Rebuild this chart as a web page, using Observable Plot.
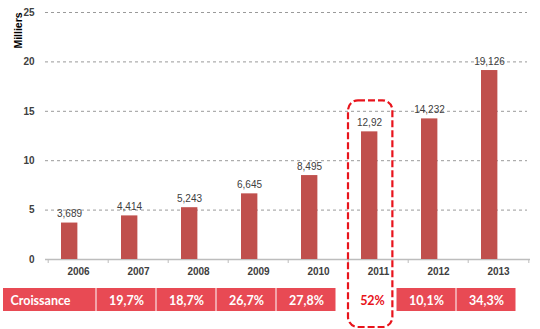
<!DOCTYPE html>
<html>
<head>
<meta charset="utf-8">
<script src="https://cdn.jsdelivr.net/npm/d3@7"></script>
<script src="https://cdn.jsdelivr.net/npm/@observablehq/plot@0.6"></script>
<style>
  html, body { margin: 0; padding: 0; background: white; }
</style>
</head>
<body>
<div id="chart"></div>
<script>
const years = ["2006", "2007", "2008", "2009", "2010", "2011", "2012", "2013"];
const values = [3.689, 4.414, 5.243, 6.645, 8.495, 12.92, 14.232, 19.126];
const valueLabels = ["3,689", "4,414", "5,243", "6,645", "8,495", "12,92", "14,232", "19,126"];
const growthYears = ["2007", "2008", "2009", "2010", "2011", "2012", "2013"];
const growthLabels = ["19,7%", "18,7%", "26,7%", "27,8%", "52%", "10,1%", "34,3%"];
const tableTitle = "Croissance";
const highlightYear = "2011";
const yTicks = [0, 5, 10, 15, 20, 25];
const yLabel = "Milliers";

const W = 540, H = 329, mL = 45, mR = 10, mT = 12, mB = 70;
const bw = (W - mL - mR) / years.length;

const data = years.map((year, i) => ({year, value: values[i], label: valueLabels[i]}));
const table = growthYears.map((year, i) => ({year, label: growthLabels[i]}));
const tableFilled = table.filter(d => d.year !== highlightYear);
const tableHighlight = table.filter(d => d.year === highlightYear);
const highlight = data.filter(d => d.year === highlightYear);

const red = "#e84a54";
const dashRed = "#e8141c";
const tableFont = "Lato, 'Open Sans', sans-serif";
const cellShift = -12;

const chart = Plot.plot({
  width: W, height: H,
  marginTop: mT, marginBottom: mB, marginLeft: mL, marginRight: mR,
  style: {fontFamily: "'Liberation Sans', Arial, sans-serif", background: "white", overflow: "visible"},
  x: {domain: years, padding: 0, label: null},
  y: {domain: [0, 25], ticks: yTicks, label: null},
  marks: [
    Plot.ruleY(yTicks.filter(t => t > 0), {stroke: "#9a9a9a", strokeDasharray: "3,3", insetRight: 3}),
    Plot.ruleY([0], {stroke: "#bdbdbd", strokeWidth: 1.5}),
    Plot.ruleX(years, {x: d => d, dx: -bw / 2, insetTop: H - mT - mB, insetBottom: -4, stroke: "#bdbdbd"}),
    Plot.ruleX([years[years.length - 1]], {x: d => d, dx: bw / 2, insetTop: H - mT - mB, insetBottom: -4, stroke: "#bdbdbd"}),
    Plot.barY(data, {x: "year", y: "value", fill: "#c0504d", insetLeft: 13, insetRight: bw - 30}),
    Plot.text(data, {x: "year", y: "value", text: "label", dx: -9, dy: -6, lineAnchor: "bottom",
      fontSize: 10, fill: "#404040"}),
    Plot.axisY({ticks: yTicks, tickSize: 0, tickPadding: 11, fontSize: 10, fontWeight: "bold", fill: "#404040", label: null}),
    Plot.axisX({tickSize: 0, tickPadding: 8, fontSize: 10, fontWeight: "bold", fill: "#404040", label: null}),
    Plot.text([yLabel], {frameAnchor: "top-left", dx: -31, dy: 18, rotate: -90, textAnchor: "middle",
      fontSize: 10.5, fontWeight: "bold", fill: "black"}),
    // table row
    Plot.barY([{year: years[0]}], {x: "year", y1: 0, y2: 0, dx: cellShift, insetLeft: -(mL + cellShift), insetRight: 0.5,
      insetTop: 29, insetBottom: -52, fill: red}),
    Plot.barY(tableFilled, {x: "year", y1: 0, y2: 0, dx: cellShift, insetLeft: 0.5, insetRight: 0.5,
      insetTop: 29, insetBottom: -52, fill: red}),
    Plot.text([tableTitle], {x: () => years[0], y: 0, dx: -38, dy: 41, fontSize: 12.5, fontWeight: "bold",
      fill: "white", fontFamily: tableFont}),
    Plot.text(tableFilled, {x: "year", y: 0, text: "label", dx: cellShift, dy: 41, fontSize: 12.5, fontWeight: "bold",
      fill: "white", fontFamily: tableFont}),
    Plot.text(tableHighlight, {x: "year", y: 0, text: "label", dx: -6, dy: 41, fontSize: 12.5, fontWeight: "bold",
      fill: dashRed, fontFamily: tableFont}),
    // highlight box
    Plot.barY(highlight, {x: "year", y1: 0, y2: "value", insetLeft: 0, insetRight: bw - 45,
      insetTop: -31, insetBottom: -68, fill: "none", stroke: dashRed, strokeWidth: 2.2,
      strokeDasharray: "7,3", rx: 10})
  ]
});
document.getElementById("chart").appendChild(chart);
</script>
</body>
</html>
